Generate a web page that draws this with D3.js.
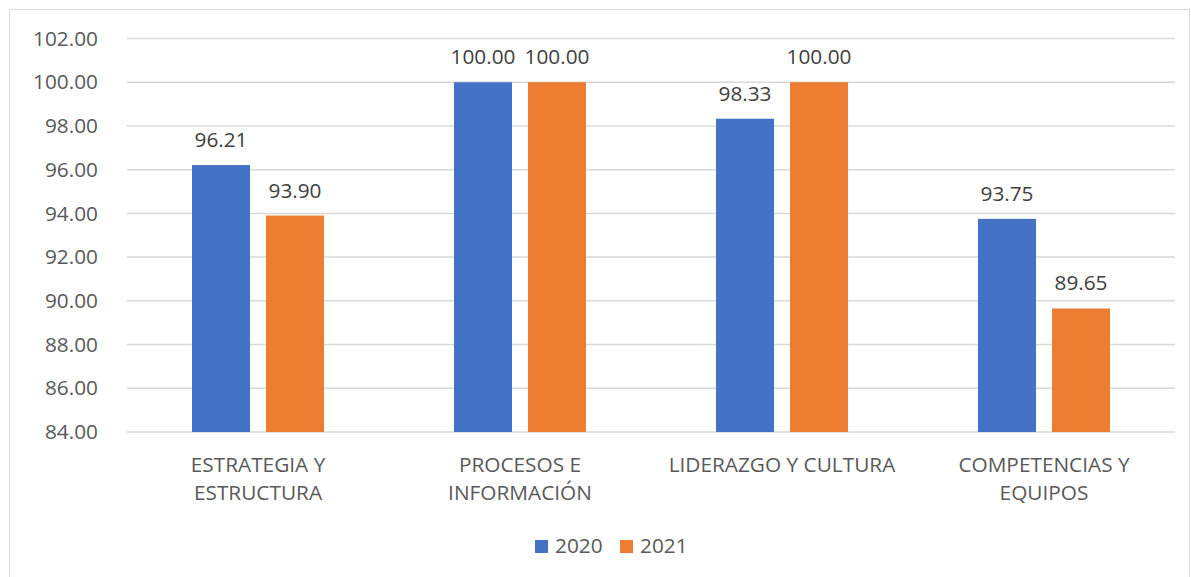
<!DOCTYPE html>
<html>
<head>
<meta charset="utf-8">
<script src="https://cdn.jsdelivr.net/npm/d3@7"></script>
<style>
  body { margin: 0; background: #fff; }
  svg { display: block; font-family: "Open Sans", sans-serif; }
</style>
</head>
<body>
<div id="chart"></div>
<script>
const categories = ["ESTRATEGIA Y ESTRUCTURA", "PROCESOS E INFORMACIÓN", "LIDERAZGO Y CULTURA", "COMPETENCIAS Y EQUIPOS"];
const seriesNames = ["2020", "2021"];
const values2020 = [96.21, 100.00, 98.33, 93.75];
const values2021 = [93.90, 100.00, 100.00, 89.65];
const yTicks = [84, 86, 88, 90, 92, 94, 96, 98, 100, 102];

const width = 1191, height = 577;
const margins = {left: 127, right: 16, top: 38.5, bottom: 145};
const colors = ["#4472C4", "#ED7D31"];
const textColor = "#595959";
const fontSize = "20.8px";

const svg = d3.select("#chart").append("svg")
    .attr("width", width)
    .attr("height", height);

// outer chart frame
svg.append("rect")
    .attr("x", 9.5).attr("y", 9.5)
    .attr("width", width - 11).attr("height", height)
    .attr("fill", "none")
    .attr("stroke", "#D9D9D9");

const x = d3.scaleBand()
    .domain(categories)
    .range([margins.left, width - margins.right]);

const y = d3.scaleLinear()
    .domain([84, 102])
    .range([height - margins.bottom, margins.top]);

// x1 places the two bars inside a category
const barW = 58, gap = 16;
const x1 = d3.scaleOrdinal()
    .domain(seriesNames)
    .range([-(barW + gap / 2), gap / 2]);

// gridlines
svg.append("g")
    .selectAll("line")
    .data(yTicks)
    .join("line")
    .attr("x1", margins.left)
    .attr("x2", width - margins.right)
    .attr("y1", d => y(d))
    .attr("y2", d => y(d))
    .attr("stroke", "#D9D9D9")
    .attr("stroke-width", 1.5);

// y axis labels
const yAxis = d3.axisLeft(y)
    .tickValues(yTicks)
    .tickFormat(d3.format(".2f"))
    .tickSize(0)
    .tickPadding(29);
const yg = svg.append("g")
    .attr("transform", `translate(${margins.left},0)`)
    .call(yAxis);
yg.select(".domain").remove();
yg.selectAll("text")
    .attr("fill", textColor)
    .style("font-size", fontSize)
    .style("font-family", "'Open Sans', sans-serif");

const series = [values2020, values2021];

series.forEach((vals, si) => {
    const g = svg.append("g");
    g.selectAll("rect")
        .data(vals)
        .join("rect")
        .attr("x", (d, i) => x(categories[i]) + x.bandwidth() / 2 + x1(seriesNames[si]))
        .attr("y", d => y(d))
        .attr("width", barW)
        .attr("height", d => y(84) - y(d))
        .attr("fill", colors[si]);

    g.selectAll("text")
        .data(vals)
        .join("text")
        .attr("x", (d, i) => x(categories[i]) + x.bandwidth() / 2 + x1(seriesNames[si]) + barW / 2)
        .attr("y", d => y(d) - 18)
        .attr("text-anchor", "middle")
        .attr("fill", "#404040")
        .style("font-size", fontSize)
        .text(d => d3.format(".2f")(d));
});

// category labels, wrapped like the original
function wrap(textSel, maxW) {
    textSel.each(function() {
        const t = d3.select(this);
        const words = t.text().split(" ");
        const cx = t.attr("x");
        t.text(null);
        let line = [];
        let tspan = t.append("tspan").attr("x", cx).attr("dy", 0);
        for (const w of words) {
            line.push(w);
            tspan.text(line.join(" "));
            if (tspan.node().getComputedTextLength() > maxW && line.length > 1) {
                line.pop();
                tspan.text(line.join(" "));
                line = [w];
                tspan = t.append("tspan").attr("x", cx).attr("dy", 28).text(w);
            }
        }
    });
}

svg.append("g")
    .selectAll("text")
    .data(categories)
    .join("text")
    .attr("x", d => x(d) + x.bandwidth() / 2)
    .attr("y", 472)
    .attr("text-anchor", "middle")
    .attr("fill", textColor)
    .style("font-size", fontSize)
    .text(d => d)
    .call(wrap, 250);

// legend
const legendX = [535, 620];
const legend = svg.append("g");
seriesNames.forEach((s, i) => {
    legend.append("rect")
        .attr("x", legendX[i]).attr("y", 540)
        .attr("width", 13).attr("height", 13)
        .attr("fill", colors[i]);
    legend.append("text")
        .attr("x", legendX[i] + 20).attr("y", 553)
        .attr("fill", textColor)
        .style("font-size", fontSize)
        .text(s);
});
</script>
</body>
</html>
